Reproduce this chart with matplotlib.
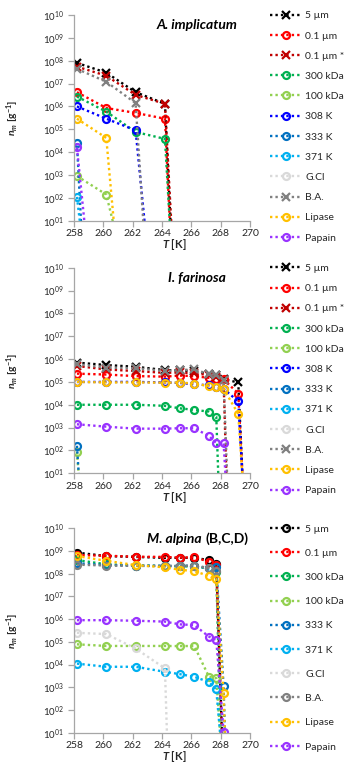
import matplotlib
matplotlib.use('Agg')
import matplotlib.pyplot as plt
import numpy as np
from matplotlib.ticker import FixedLocator, FuncFormatter, NullLocator

plt.rcParams['font.family'] = ['Lato', 'DejaVu Sans']
plt.rcParams['mathtext.fontset'] = 'custom'
plt.rcParams['mathtext.rm'] = 'Lato'
plt.rcParams['mathtext.it'] = 'Lato:italic'
plt.rcParams['mathtext.bf'] = 'Lato:bold'
plt.rcParams['mathtext.bfit'] = 'Lato:italic:bold'
plt.rcParams['mathtext.default'] = 'regular'

# ---- data (T in K, n_m in 1/g); last point of each series is below the axis (drop-off)
labels_A = ['5 µm', '0.1 µm', '0.1 µm *', '300 kDa', '100 kDa', '308 K', '333 K', '371 K',
            'G.Cl', 'B.A.', 'Lipase', 'Papain']
temps_A = {
    '5 µm': [258.2, 260.2, 262.2, 264.2, 264.6],
    '0.1 µm': [258.2, 260.2, 262.2, 264.2, 264.55],
    '0.1 µm *': [258.2, 260.2, 262.2, 264.2, 264.65],
    '300 kDa': [258.2, 260.2, 262.2, 264.2, 264.55],
    '100 kDa': [258.2, 260.2, 260.75],
    '308 K': [258.2, 260.2, 262.2, 262.85],
    '333 K': [258.2, 258.5],
    '371 K': [258.2, 258.45],
    'G.Cl': [],
    'B.A.': [258.2, 260.2, 262.2, 262.75],
    'Lipase': [258.2, 260.2, 260.75],
    'Papain': [258.2, 258.75],
}
values_A = {
    '5 µm': [8e7, 3e7, 4.2e6, 1.3e6, 5],
    '0.1 µm': [4.2e6, 8.5e5, 5.2e5, 2.9e5, 5],
    '0.1 µm *': [5.5e7, 2.2e7, 3.2e6, 1.3e6, 5],
    '300 kDa': [2.7e6, 5.9e5, 7.6e4, 3.8e4, 5],
    '100 kDa': [9e2, 1.4e2, 5],
    '308 K': [1e6, 2.9e5, 9e4, 5],
    '333 K': [2.5e4, 5],
    '371 K': [1.1e2, 5],
    'G.Cl': [],
    'B.A.': [4.4e7, 1.2e7, 1.4e6, 5],
    'Lipase': [2.9e5, 4.2e4, 5],
    'Papain': [1.6e4, 5],
}

labels_I = labels_A
temps_I = {
    '5 µm': [258.2, 260.2, 262.2, 264.2, 265.2, 266.2, 267.2, 267.7, 268.2, 269.2, 269.5],
    '0.1 µm': [258.2, 260.2, 262.2, 264.2, 265.2, 266.2, 267.2, 267.7, 268.2, 269.2, 269.5],
    '0.1 µm *': [258.2, 260.2, 262.2, 264.2, 265.2, 266.2, 267.2, 267.7, 268.2, 268.4],
    '300 kDa': [258.2, 260.2, 262.2, 264.2, 265.2, 266.2, 267.2, 267.7, 267.85],
    '100 kDa': [258.2, 258.35],
    '308 K': [258.2, 260.2, 262.2, 264.2, 265.2, 266.2, 267.2, 267.7, 268.2, 269.2, 269.5],
    '333 K': [258.2, 258.35],
    '371 K': [],
    'G.Cl': [],
    'B.A.': [258.2, 260.2, 262.2, 264.2, 265.2, 266.2, 267.2, 267.7, 268.2, 268.45],
    'Lipase': [258.2, 260.2, 262.2, 264.2, 265.2, 266.2, 267.2, 267.7, 268.2, 269.2, 269.5],
    'Papain': [258.2, 260.2, 262.2, 264.2, 265.2, 266.2, 267.2, 267.7, 268.2, 268.35],
}
values_I = {
    '5 µm': [7e5, 5.5e5, 4.6e5, 3.3e5, 3.2e5, 3e5, 2.2e5, 2e5, 1.3e5, 9.5e4, 5],
    '0.1 µm': [2.3e5, 2.1e5, 1.8e5, 1.7e5, 1.9e5, 1.8e5, 1.5e5, 1.4e5, 1.3e5, 3.1e4, 5],
    '0.1 µm *': [5e5, 3.5e5, 3e5, 2.5e5, 2.6e5, 2.4e5, 2e5, 1.7e5, 1.2e5, 5],
    '300 kDa': [1e4, 1e4, 1e4, 9e3, 7e3, 6e3, 5e3, 3e3, 5],
    '100 kDa': [85, 5],
    '308 K': [1e5, 1e5, 1e5, 9.5e4, 9e4, 8e4, 7e4, 6e4, 5e4, 1.4e4, 5],
    '333 K': [1.6e2, 5],
    '371 K': [],
    'G.Cl': [],
    'B.A.': [6e5, 4.2e5, 4e5, 3e5, 3.3e5, 3.5e5, 2.2e5, 2e5, 1.2e5, 5],
    'Lipase': [1e5, 9.5e4, 9.5e4, 9.3e4, 9.4e4, 8.5e4, 6.6e4, 6e4, 5e4, 4e3, 5],
    'Papain': [1.4e3, 1.1e3, 9e2, 9e2, 9.4e2, 9.4e2, 4.3e2, 2.1e2, 2.1e2, 5],
}

labels_M = ['5 µm', '0.1 µm', '300 kDa', '100 kDa', '333 K', '371 K',
            'G.Cl', 'B.A.', 'Lipase', 'Papain']
temps_M = {
    '5 µm': [258.2, 260.2, 262.2, 264.2, 265.2, 266.2, 267.2, 267.7, 268.1],
    '0.1 µm': [258.2, 260.2, 262.2, 264.2, 265.2, 266.2, 267.2, 267.7, 268.1],
    '300 kDa': [258.2, 260.2, 262.2, 264.2, 265.2, 266.2, 267.2, 267.7, 268.0],
    '100 kDa': [258.2, 260.2, 262.2, 264.2, 265.2, 266.2, 267.2, 267.7, 268.0],
    '333 K': [258.2, 260.2, 262.2, 264.2, 265.2, 266.2, 267.2, 267.7, 268.2, 268.3],
    '371 K': [258.2, 260.2, 262.2, 264.2, 265.2, 266.2, 267.2, 267.7, 268.0],
    'G.Cl': [258.2, 260.2, 262.2, 264.2, 264.35],
    'B.A.': [258.2, 260.2, 262.2, 264.2, 265.2, 266.2, 267.2, 267.7, 268.1],
    'Lipase': [258.2, 260.2, 262.2, 264.2, 265.2, 266.2, 267.2, 267.7, 268.2, 268.3],
    'Papain': [258.2, 260.2, 262.2, 264.2, 265.2, 266.2, 267.2, 267.7, 268.2, 268.25],
}
values_M = {
    '5 µm': [8.5e8, 6e8, 5.5e8, 5e8, 5e8, 5e8, 4e8, 2.8e8, 5],
    '0.1 µm': [6.6e8, 6.2e8, 5.6e8, 5.5e8, 5.1e8, 5.3e8, 3.4e8, 2.4e8, 5],
    '300 kDa': [4e8, 2.6e8, 2.3e8, 2.2e8, 2.1e8, 2.1e8, 1.7e8, 1.2e8, 5],
    '100 kDa': [7.8e4, 6.6e4, 6.6e4, 6.6e4, 6.5e4, 6.6e4, 2.9e3, 2.5e3, 5],
    '333 K': [2.9e8, 2.4e8, 2.3e8, 2.2e8, 2.2e8, 2.3e8, 1.7e8, 2e8, 1.1e3, 5],
    '371 K': [1.1e4, 8e3, 8e3, 4.8e3, 3.8e3, 2.9e3, 1.7e3, 8e2, 5],
    'G.Cl': [2.5e5, 2.2e5, 5.1e4, 6.8e3, 5],
    'B.A.': [2.5e8, 2.3e8, 2.2e8, 2.2e8, 2.2e8, 2.3e8, 1.8e8, 1.3e8, 5],
    'Lipase': [6e8, 3.7e8, 2.4e8, 1.9e8, 1.5e8, 1.3e8, 8e7, 5.6e7, 5.4e2, 5],
    'Papain': [9e5, 9e5, 8.5e5, 7.8e5, 5.9e5, 5.5e5, 1.7e5, 1.2e5, 11, 5],
}

colors = {
    '5 µm': 'black', '0.1 µm': '#FF0000', '0.1 µm *': '#C00000',
    '300 kDa': '#00B050', '100 kDa': '#92D050', '308 K': '#0000FF',
    '333 K': '#0070C0', '371 K': '#00B0F0', 'G.Cl': '#D9D9D9',
    'B.A.': '#808080', 'Lipase': '#FFC000', 'Papain': '#9933FF',
}
x_marked = ['5 µm', '0.1 µm *', 'B.A.']

fig = plt.figure(figsize=(3.47, 7.65), dpi=100)

W, H = 347, 765


def panel(top_px, bot_px, labels, temps, values, use_x, row_px):
    ax = fig.add_axes([74 / W, 1 - bot_px / H, 176 / W, (bot_px - top_px) / H])
    for lab in labels:
        mk = 'x' if (use_x and lab in x_marked) else 'o'
        ax.plot(temps[lab], values[lab], color=colors[lab], ls=(0, (1, 1.3)), lw=1.7,
                marker=mk, ms=5 if mk == 'o' else 5.5, mew=1.6, mfc='none',
                label=lab, clip_on=True)
    ax.set_yscale('log')
    ax.set_xlim(258, 270)
    ax.set_ylim(10, 1e10)
    ax.xaxis.set_major_locator(FixedLocator(np.arange(258, 271, 2)))
    ax.yaxis.set_major_locator(FixedLocator([10.0 ** k for k in range(1, 11)]))
    ax.yaxis.set_minor_locator(NullLocator())
    ax.yaxis.set_major_formatter(FuncFormatter(
        lambda v, p: '$10^{%02d}$' % int(round(np.log10(v)))))
    for s in ['top', 'right']:
        ax.spines[s].set_visible(False)
    for s in ['left', 'bottom']:
        ax.spines[s].set_color('#A6A6A6')
        ax.spines[s].set_linewidth(0.9)
    ax.tick_params(axis='both', colors='#A6A6A6', labelcolor='#262626', length=4, width=0.9)
    ax.tick_params(axis='x', labelsize=7.5, pad=2)
    ax.tick_params(axis='y', labelsize=7, pad=3)
    ax.set_xlabel(r'$\mathbfit{T}$ [K]', fontsize=8, fontweight='bold', color='#262626')
    ax.xaxis.set_label_coords(0.57, -0.08)
    ax.set_ylabel(r'$\mathbfit{n}_{\mathbfit{m}}$ [g$^{\mathbf{-1}}$]', fontsize=7.5,
                  fontweight='bold', color='#262626')
    ax.yaxis.set_label_coords(-0.30, 0.5)
    leg = fig.legend(loc='upper left', bbox_to_anchor=(270 / W, 1 - (top_px - 4) / H),
                     frameon=False, fontsize=7.5, handlelength=3.0, handletextpad=0.4,
                     borderpad=0, borderaxespad=0, numpoints=1,
                     labelspacing=(row_px - 9.4) / 10.4, handles=ax.get_lines())
    for t in leg.get_texts():
        t.set_color('#262626')
    return ax


ax1 = panel(15, 220.7, labels_A, temps_A, values_A, True, 20.3)
ax1.text(0.70, 0.95, 'A. implicatum', transform=ax1.transAxes, ha='center', va='center',
         fontsize=10, fontweight='bold', style='italic', color='black')

ax2 = panel(267.7, 473.3, labels_I, temps_I, values_I, True, 20.3)
ax2.text(0.70, 0.95, 'I. farinosa', transform=ax2.transAxes, ha='center', va='center',
         fontsize=10, fontweight='bold', style='italic', color='black')

ax3 = panel(528.3, 732.7, labels_M, temps_M, values_M, False, 24.3)
ax3.text(0.726, 0.95, 'M. alpina', transform=ax3.transAxes, ha='right', va='center',
         fontsize=10, fontweight='bold', style='italic', color='black')
ax3.text(0.745, 0.95, '(B,C,D)', transform=ax3.transAxes, ha='left', va='center',
         fontsize=10, fontweight='bold', color='black')

fig.savefig('out.png', dpi=100)
